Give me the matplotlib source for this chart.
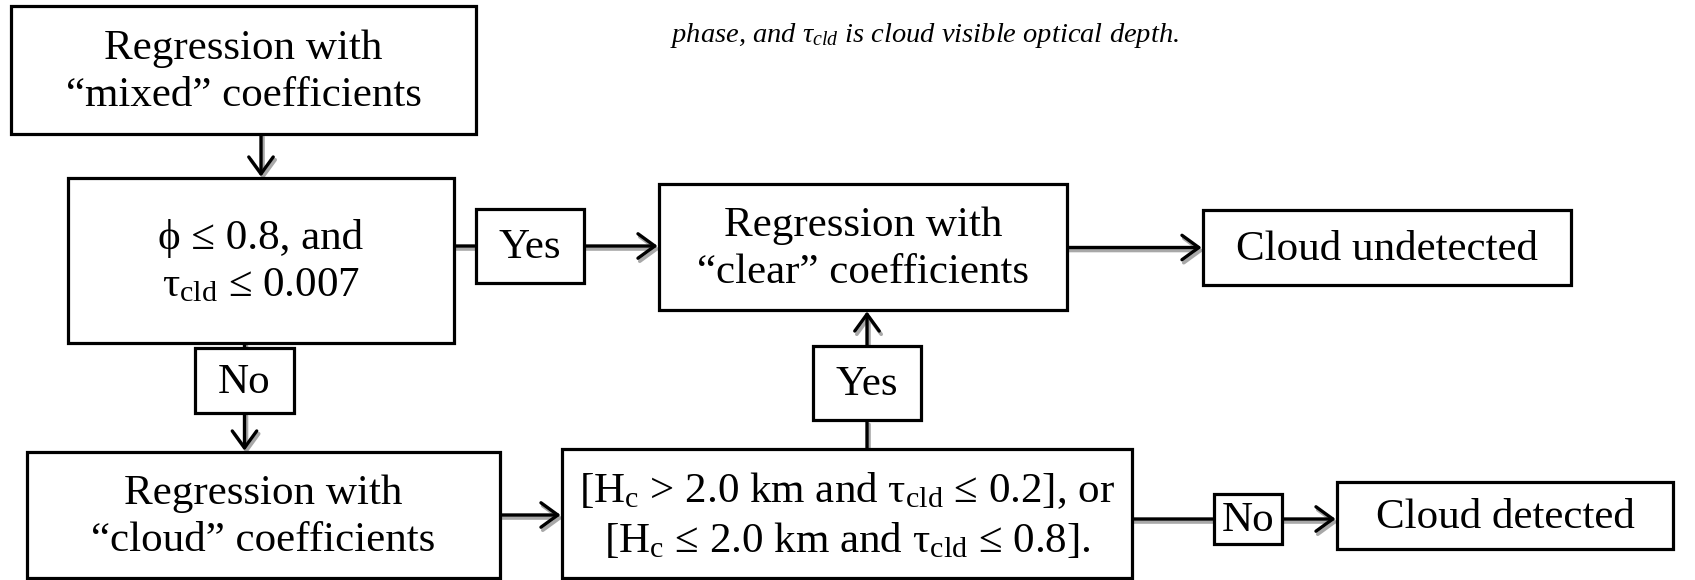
import matplotlib.pyplot as plt
from matplotlib.patches import Rectangle, FancyArrowPatch

plt.rcParams['font.family'] = ['Liberation Serif', 'DejaVu Serif']
plt.rcParams['mathtext.fontset'] = 'custom'
plt.rcParams['mathtext.rm'] = 'Liberation Serif'
plt.rcParams['mathtext.it'] = 'Liberation Serif:italic'

# node labels
node_names = ['mixed', 'cond1', 'yes1', 'clear', 'undet', 'no1',
              'cloud', 'cond2', 'yes2', 'no2', 'det']
node_labels = [
    'Regression with\n\u201cmixed\u201d coefficients',
    '\u03d5 \u2264 0.8, and\n\u03c4$_{\\rm cld}$ \u2264 0.007',
    'Yes',
    'Regression with\n\u201cclear\u201d coefficients',
    'Cloud undetected',
    'No',
    'Regression with\n\u201ccloud\u201d coefficients',
    '[H$_{\\rm c}$ > 2.0 km and \u03c4$_{\\rm cld}$ \u2264 0.2], or\n'
    '[H$_{\\rm c}$ \u2264 2.0 km and \u03c4$_{\\rm cld}$ \u2264 0.8].',
    'Yes',
    'No',
    'Cloud detected',
]
# box extents in pixels (x0, y0, x1, y1), y measured downward
node_boxes = [
    (11, 6, 476, 134),
    (68, 178, 454, 343),
    (476, 209, 584, 283),
    (659, 184, 1067, 310),
    (1203, 210, 1571, 285),
    (195, 348, 294, 413),
    (27, 452, 500, 578),
    (562, 449, 1132, 578),
    (813, 346, 921, 420),
    (1214, 494, 1282, 544),
    (1337, 482, 1673, 549),
]
# connectors: (from, to, with_arrow)
edges = [
    ('mixed', 'cond1', True),
    ('cond1', 'yes1', False),
    ('yes1', 'clear', True),
    ('clear', 'undet', True),
    ('cond1', 'no1', False),
    ('no1', 'cloud', True),
    ('cloud', 'cond2', True),
    ('cond2', 'yes2', False),
    ('yes2', 'clear', True),
    ('cond2', 'no2', False),
    ('no2', 'det', True),
]
caption = 'phase, and $\\tau_{cld}$ is cloud visible optical depth.'

boxes = dict(zip(node_names, node_boxes))

fig = plt.figure(figsize=(16.95, 5.80), dpi=100)
ax = fig.add_axes([0, 0, 1, 1])
ax.set_xlim(0, 1695)
ax.set_ylim(580, 0)
ax.axis('off')

for name, label in zip(node_names, node_labels):
    x0, y0, x1, y1 = boxes[name]
    ax.add_patch(Rectangle((x0, y0), x1 - x0, y1 - y0, facecolor='white',
                           edgecolor='black', linewidth=2.3, zorder=3))
    ax.text((x0 + x1) / 2, (y0 + y1) / 2 + 2, label, ha='center', va='center',
            fontsize=31, linespacing=1.3, zorder=4)


def endpoints(a, b):
    ax0, ay0, ax1, ay1 = boxes[a]
    bx0, by0, bx1, by1 = boxes[b]
    if ax1 <= bx0:  # horizontal, left to right
        y = (max(ay0, by0) + min(ay1, by1)) / 2
        return (ax1, y), (bx0, y)
    if ay1 <= by0:  # vertical, downward
        x = (max(ax0, bx0) + min(ax1, bx1)) / 2
        return (x, ay1), (x, by0)
    x = (max(ax0, bx0) + min(ax1, bx1)) / 2  # vertical, upward
    return (x, ay0), (x, by1)


for a, b, head in edges:
    p, q = endpoints(a, b)
    style = '->,head_length=0.55,head_width=0.4' if head else '-'
    shadow = FancyArrowPatch((p[0] + 2, p[1] + 3), (q[0] + 2, q[1] + 3),
                             arrowstyle=style, mutation_scale=22,
                             color='#a8a8a8', linewidth=2.6,
                             shrinkA=0, shrinkB=1, zorder=1)
    ax.add_patch(shadow)
    arrow = FancyArrowPatch(p, q, arrowstyle=style, mutation_scale=22,
                            color='black', linewidth=2.4,
                            shrinkA=0, shrinkB=1, zorder=2)
    ax.add_patch(arrow)

ax.text(670, 42, caption, fontsize=20.5, style='italic', ha='left',
        va='baseline')

plt.savefig('out.png', dpi=100, facecolor='white')
